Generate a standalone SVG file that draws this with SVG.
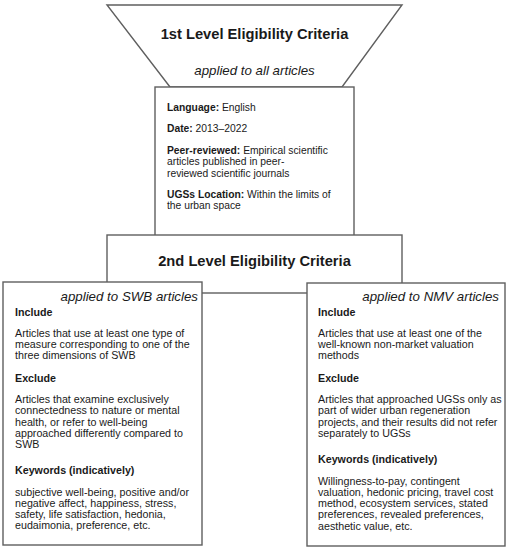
<svg xmlns="http://www.w3.org/2000/svg" width="509" height="550" viewBox="0 0 509 550">
<style>
.box{fill:#fff;stroke:#5f5f5f;stroke-width:1.4}
.t{font-family:"Liberation Sans",Arial,sans-serif;fill:#1a1a1a}
.h{font-size:14.7px;font-weight:bold}
.i{font-size:13.3px;font-style:italic}
.b{font-size:10.7px}
.s{font-size:10.3px}
.bb{font-weight:bold}
</style>
<rect width="509" height="550" fill="#fff"/>
<g id="level1">
<polygon class="box" points="107,5 402,5 342,87 170,87"/>
<text class="t h" x="254.5" y="38.5" text-anchor="middle">1st Level Eligibility Criteria</text>
<text class="t i" x="254.5" y="75" text-anchor="middle">applied to all articles</text>
</g>
<g id="level1-criteria">
<rect class="box" x="155" y="87" width="199" height="150"/>
<text class="t s" x="167" y="111"><tspan class="bb">Language:</tspan> English</text>
<text class="t s" x="167" y="131.5"><tspan class="bb">Date:</tspan> 2013–2022</text>
<text class="t s" x="167" y="154"><tspan class="bb">Peer-reviewed:</tspan> Empirical scientific<tspan x="167" dy="11.3">articles published in peer-</tspan><tspan x="167" dy="11.3">reviewed scientific journals</tspan></text>
<text class="t s" x="167" y="198"><tspan class="bb">UGSs Location:</tspan> Within the limits of<tspan x="167" dy="11.3">the urban space</tspan></text>
</g>
<g id="level2">
<rect class="box" x="107" y="235" width="295" height="58"/>
<text class="t h" x="254.5" y="266" text-anchor="middle">2nd Level Eligibility Criteria</text>
</g>
<g id="swb">
<rect class="box" x="3" y="282" width="199" height="263"/>
<text class="t i" x="198" y="300.5" text-anchor="end">applied to SWB articles</text>
<text class="t b bb" x="15" y="315.5">Include</text>
<text class="t b" x="15" y="336.5">Articles that use at least one type of<tspan x="15" dy="11.3">measure corresponding to one of the</tspan><tspan x="15" dy="11.3">three dimensions of SWB</tspan></text>
<text class="t b bb" x="15" y="382">Exclude</text>
<text class="t b" x="15" y="403">Articles that examine exclusively<tspan x="15" dy="11.3">connectedness to nature or mental</tspan><tspan x="15" dy="11.3">health, or refer to well-being</tspan><tspan x="15" dy="11.3">approached differently compared to</tspan><tspan x="15" dy="11.3">SWB</tspan></text>
<text class="t b bb" x="15" y="474">Keywords (indicatively)</text>
<text class="t b" x="15" y="495.5">subjective well-being, positive and/or<tspan x="15" dy="11.3">negative affect, happiness, stress,</tspan><tspan x="15" dy="11.3">safety, life satisfaction, hedonia,</tspan><tspan x="15" dy="11.3">eudaimonia, preference, etc.</tspan></text>
</g>
<g id="nmv">
<rect class="box" x="307" y="283" width="198" height="263"/>
<text class="t i" x="499" y="300.5" text-anchor="end">applied to NMV articles</text>
<text class="t b bb" x="318" y="315.5">Include</text>
<text class="t b" x="318" y="336.5">Articles that use at least one of the<tspan x="318" dy="11.3">well-known non-market valuation</tspan><tspan x="318" dy="11.3">methods</tspan></text>
<text class="t b bb" x="318" y="382">Exclude</text>
<text class="t b" x="318" y="403">Articles that approached UGSs only as<tspan x="318" dy="11.3">part of wider urban regeneration</tspan><tspan x="318" dy="11.3">projects, and their results did not refer</tspan><tspan x="318" dy="11.3">separately to UGSs</tspan></text>
<text class="t b bb" x="318" y="463">Keywords (indicatively)</text>
<text class="t b" x="318" y="484.5">Willingness-to-pay, contingent<tspan x="318" dy="11.3">valuation, hedonic pricing, travel cost</tspan><tspan x="318" dy="11.3">method, ecosystem services, stated</tspan><tspan x="318" dy="11.3">preferences, revealed preferences,</tspan><tspan x="318" dy="11.3">aesthetic value, etc.</tspan></text>
</g>
<g id="connectors"></g>
</svg>
